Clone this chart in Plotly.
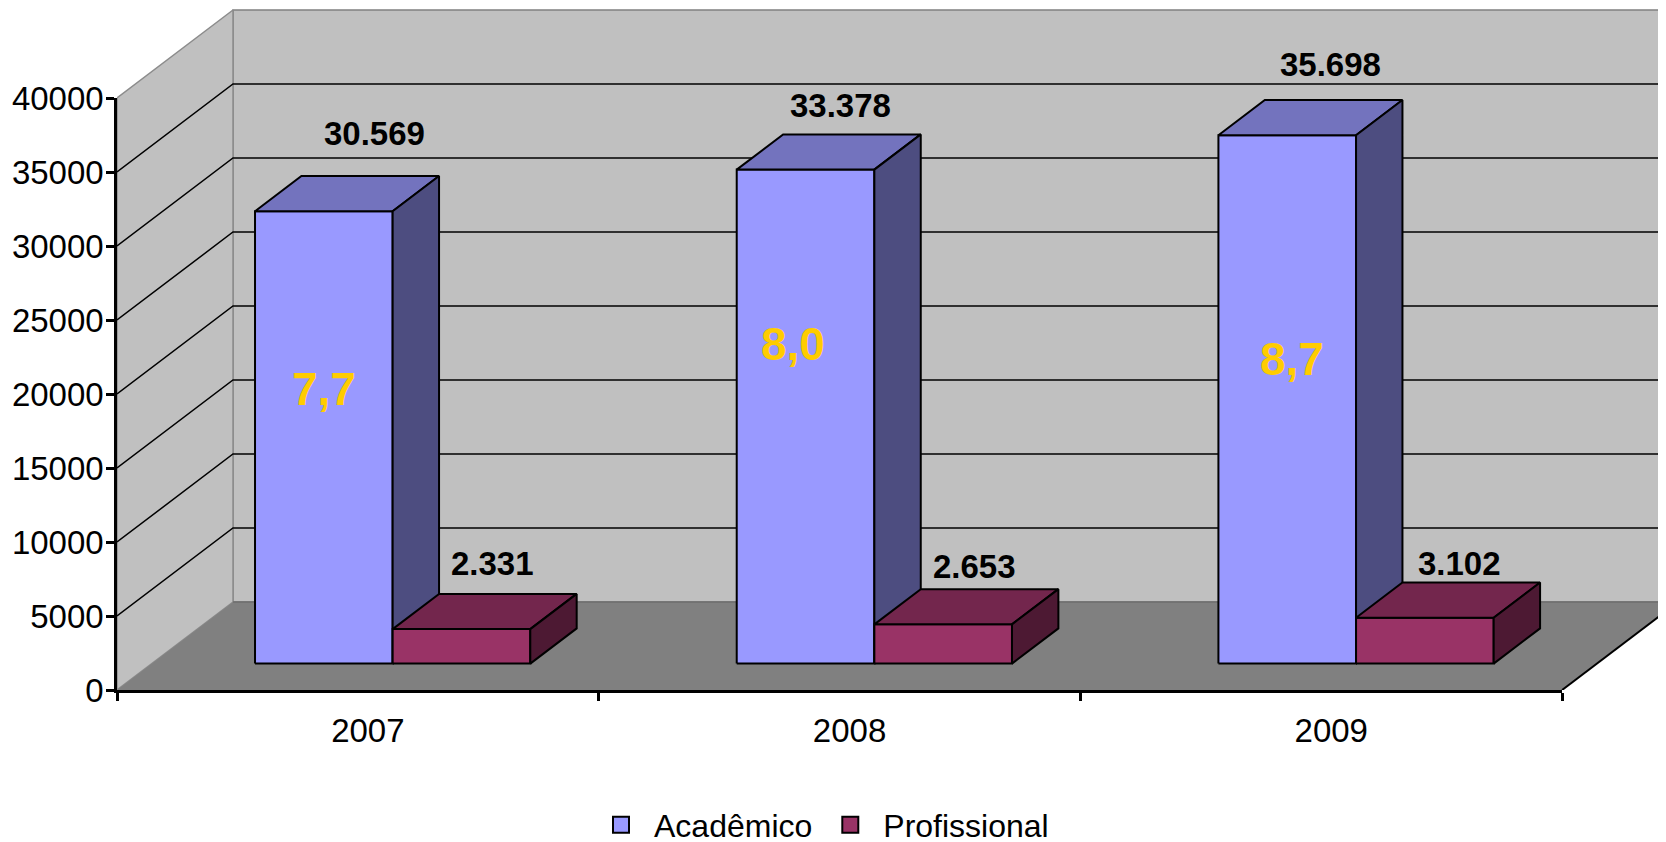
import plotly.graph_objects as go

# ---------------- data ----------------
years = ["2007", "2008", "2009"]
academico = [30569, 33378, 35698]
profissional = [2331, 2653, 3102]
ratio_labels = ["7,7", "8,0", "8,7"]
series_names = ["Acadêmico", "Profissional"]
y_ticks = [0, 5000, 10000, 15000, 20000, 25000, 30000, 35000, 40000]

# ---------------- style / geometry ----------------
FONT = "Liberation Sans, Arial, sans-serif"
W, H = 1658, 842               # page body has an 8 px margin
ML, MB, MT, MR = 109, 160, 0, 0
PX_PER_CAT = 481.7
PX_PER_UNIT = 0.0148
X_MAX = (W - ML - MR) / PX_PER_CAT
Y_MAX = (H - MB - MT) / PX_PER_UNIT
YTOP = y_ticks[-1]
NCAT = len(years)
DX = 116 / PX_PER_CAT          # depth offset in category units
DY = 88 / PX_PER_UNIT          # depth offset in value units
BAR_W = 1 / 3.5                # gap width 150 %
GAP = 1.5 * BAR_W
D0, D1 = 0.3, 0.7              # bar depth range
ratio_frac = [0.607, 0.647, 0.577]   # vertical placement of the ratio labels
ratio_xshift = [0, -13, 5]

face_colors = {
    "Acadêmico": ("#9999FF", "#7373BE", "#4D4D80"),
    "Profissional": ("#993366", "#73264D", "#4D1933"),
}
# per-label pixel offsets of the value labels (x, y)
label_xshift = {"Acadêmico": [4, -11, -3], "Profissional": [-15, -15, -12]}
label_yshift = {"Acadêmico": [22, 8, 15], "Profissional": [10, 2, -2]}

fig = go.Figure()

def poly(xs, ys, fill, line_color, line_width):
    fig.add_trace(go.Scatter(
        x=xs, y=ys, mode="lines", fill="toself", fillcolor=fill,
        line=dict(color=line_color, width=line_width),
        hoverinfo="skip", showlegend=False, xaxis="x", yaxis="y"))

# back wall
poly([DX, NCAT + DX, NCAT + DX, DX, DX],
     [DY, DY, YTOP + DY, YTOP + DY, DY], "#C0C0C0", "#808080", 1.5)
# side wall
poly([0, DX, DX, 0, 0], [0, DY, YTOP + DY, YTOP, 0], "#C0C0C0", "#8C8C8C", 1.5)
# floor
poly([0, NCAT, NCAT + DX, DX, 0], [0, 0, DY, DY, 0], "#808080", "rgba(0,0,0,0)", 0)
# floor right edge
fig.add_trace(go.Scatter(x=[NCAT, NCAT + DX], y=[0, DY], mode="lines",
                         line=dict(color="black", width=2), hoverinfo="skip",
                         showlegend=False))
# back-wall floor edge
fig.add_trace(go.Scatter(x=[DX, NCAT + DX], y=[DY, DY], mode="lines",
                         line=dict(color="#6E6E6E", width=1.5), hoverinfo="skip",
                         showlegend=False))

# grid lines on side wall and back wall
gx, gy = [], []
for v in y_ticks[1:-1]:
    gx += [0, DX, NCAT + DX, None]
    gy += [v, v + DY, v + DY, None]
fig.add_trace(go.Scatter(x=gx, y=gy, mode="lines",
                         line=dict(color="black", width=1.5),
                         hoverinfo="skip", showlegend=False))

# bars
annotations = []
for j, (name, vals) in enumerate(zip(series_names, [academico, profissional])):
    cf, ct, cs = face_colors[name]
    fx, fy, tx, ty, sx, sy = [], [], [], [], [], []
    for i, v in enumerate(vals):
        x0 = i + GAP / 2 + j * BAR_W
        x1 = x0 + BAR_W
        fx += [x0 + D0 * DX, x1 + D0 * DX, x1 + D0 * DX, x0 + D0 * DX, x0 + D0 * DX, None]
        fy += [D0 * DY, D0 * DY, v + D0 * DY, v + D0 * DY, D0 * DY, None]
        tx += [x0 + D0 * DX, x1 + D0 * DX, x1 + D1 * DX, x0 + D1 * DX, x0 + D0 * DX, None]
        ty += [v + D0 * DY, v + D0 * DY, v + D1 * DY, v + D1 * DY, v + D0 * DY, None]
        sx += [x1 + D0 * DX, x1 + D1 * DX, x1 + D1 * DX, x1 + D0 * DX, x1 + D0 * DX, None]
        sy += [D0 * DY, D1 * DY, v + D1 * DY, v + D0 * DY, D0 * DY, None]
        annotations.append(dict(
            x=(x0 + x1) / 2 + D1 * DX, y=v + D1 * DY, xref="x", yref="y",
            text=f"{v:,}".replace(",", "."), showarrow=False,
            xanchor="center", yanchor="bottom",
            xshift=label_xshift[name][i], yshift=label_yshift[name][i],
            font=dict(family=FONT, size=33, color="black", weight="bold")))
        if name == series_names[0]:
            annotations.append(dict(
                x=(x0 + x1) / 2 + D0 * DX, y=v * ratio_frac[i] + D0 * DY,
                xref="x", yref="y", text=ratio_labels[i], showarrow=False,
                xanchor="center", yanchor="middle", xshift=ratio_xshift[i],
                font=dict(family=FONT, size=46, color="#FFCC00", weight="bold")))
    for xs_, ys_, c in ((fx, fy, cf), (tx, ty, ct), (sx, sy, cs)):
        fig.add_trace(go.Scatter(x=xs_, y=ys_, mode="lines", fill="toself",
                                 fillcolor=c, line=dict(color="black", width=2),
                                 hoverinfo="skip", showlegend=False))

# legend entries
for name in series_names:
    fig.add_trace(go.Scatter(
        x=[None], y=[None], mode="markers", name=name,
        marker=dict(symbol="square", size=19, color=face_colors[name][0],
                    line=dict(color="black", width=2))))

# dummy trace for the axis subplot
fig.add_trace(go.Scatter(x=[None], y=[None], xaxis="x2", yaxis="y2",
                         showlegend=False, hoverinfo="skip"))

fig.update_layout(
    width=W, height=H,
    margin=dict(l=ML, r=MR, t=MT, b=MB, pad=0, autoexpand=False),
    paper_bgcolor="white", plot_bgcolor="rgba(0,0,0,0)",
    font=dict(family=FONT, size=33, color="black"),
    xaxis=dict(range=[0, X_MAX], visible=False, fixedrange=True),
    yaxis=dict(range=[0, Y_MAX], visible=False, fixedrange=True),
    xaxis2=dict(domain=[0, NCAT / X_MAX], range=[0, NCAT], anchor="y2",
                showline=True, linecolor="black", linewidth=2.5,
                showgrid=False, zeroline=False,
                tickmode="array", tickvals=[i + 0.5 for i in range(NCAT)],
                ticktext=years, ticks="", ticklabelshift=10,
                ticklabelstandoff=10,
                tickfont=dict(family=FONT, size=33, color="black"),
                minor=dict(ticks="outside", tickmode="array",
                           tickvals=list(range(NCAT + 1)), ticklen=8,
                           tickwidth=2.5, tickcolor="black", showgrid=False),
                fixedrange=True),
    yaxis2=dict(domain=[0, YTOP / Y_MAX], range=[0, YTOP], anchor="x2",
                showline=True, linecolor="black", linewidth=2.5,
                showgrid=False, zeroline=False,
                tickmode="array", tickvals=y_ticks,
                ticktext=[str(v) for v in y_ticks],
                ticks="outside", ticklen=8, tickwidth=2.5, tickcolor="black",
                ticklabelstandoff=-4,
                tickfont=dict(family=FONT, size=33, color="black"),
                fixedrange=True),
    showlegend=True,
    legend=dict(orientation="h", x=(813 - ML) / (W - ML - MR), xanchor="center",
                y=-(817 - (H - MB)) / (H - MB - MT), yanchor="middle",
                font=dict(family=FONT, size=32, color="black"),
                itemwidth=56, bgcolor="rgba(0,0,0,0)"),
    annotations=annotations,
)

fig.write_html("out.html")
